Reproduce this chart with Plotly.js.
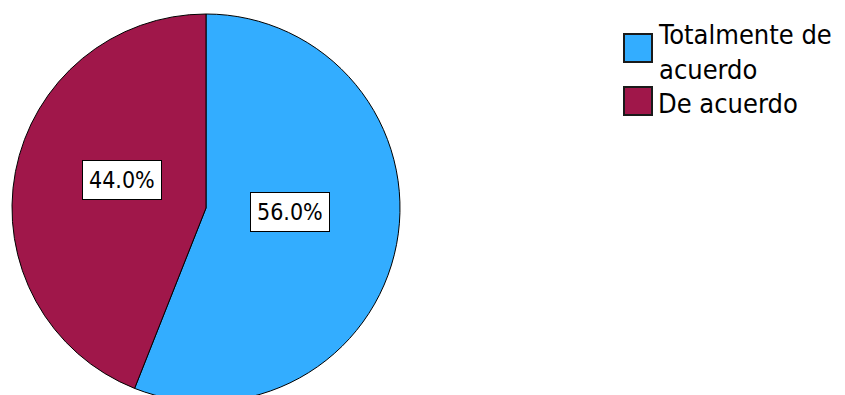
<!DOCTYPE html>
<html>
<head>
<meta charset="utf-8">
<script src="https://cdn.plot.ly/plotly-3.0.1.min.js"></script>
<style>
html, body { margin:0; padding:0; overflow:hidden; background:#fff; }
#chart { width:845px; height:420px; }
</style>
</head>
<body>
<div id="chart"></div>
<script>
const labels = ["Totalmente de acuerdo", "De acuerdo"];
const legendText = ["Totalmente de<br>acuerdo", "De acuerdo"];
const values = [56.0, 44.0];
const valueLabels = ["56.0%", "44.0%"];
const colors = ["#33adff", "#a0174a"];

const W = 845, H = 420;
const FONT = "DejaVu Sans Condensed, DejaVu Sans, Liberation Sans, Arial, sans-serif";
const px = x => x / W;
const py = y => 1 - y / H;

// pie geometry (pixels)
const cx = 206, cy = 208, R = 194;

// label annotations positioned from the data (mid-angle of each slice)
const total = values.reduce((a, b) => a + b, 0);
let acc = 0;
const annotations = [];
values.forEach((v, i) => {
  const mid = (acc + v / 2) / total * 2 * Math.PI; // clockwise from top
  acc += v;
  const r = 0.44 * R;
  const x = cx + Math.sin(mid) * r;
  const y = cy - Math.cos(mid) * r;
  annotations.push({
    xref: "paper", yref: "paper", x: px(x), y: py(y),
    xanchor: "center", yanchor: "middle", yshift: 12,
    text: valueLabels[i], showarrow: false,
    font: { family: FONT, size: 23, color: "#000" },
    bgcolor: "#ffffff", bordercolor: "#000000", borderwidth: 1, borderpad: 6
  });
});

// custom legend
const shapes = [];
const squareTops = [34, 87];
const textCenters = [51.5, 103];
labels.forEach((lab, i) => {
  shapes.push({
    type: "rect", xref: "paper", yref: "paper",
    x0: px(624), x1: px(652), y0: py(squareTops[i] + 28), y1: py(squareTops[i]),
    fillcolor: colors[i], line: { color: "#1a1a1a", width: 2 }
  });
  annotations.push({
    xref: "paper", yref: "paper", x: px(656), y: py(textCenters[i]),
    xanchor: "left", yanchor: "middle", align: "left",
    text: legendText[i], showarrow: false,
    font: { family: FONT, size: 27, color: "#000" }
  });
});

const data = [{
  type: "pie",
  labels: labels,
  values: values,
  sort: false,
  direction: "clockwise",
  rotation: 0,
  textinfo: "none",
  hoverinfo: "label+percent",
  marker: { colors: colors, line: { color: "#000000", width: 1 } },
  domain: { x: [px(cx - R), px(cx + R)], y: [py(cy + R), py(cy - R)] }
}];

const layout = {
  width: W, height: H,
  margin: { l: 0, r: 0, t: 0, b: 0 },
  showlegend: false,
  paper_bgcolor: "#ffffff",
  annotations: annotations,
  shapes: shapes
};

Plotly.newPlot("chart", data, layout, { displayModeBar: false, staticPlot: true });
</script>
</body>
</html>
